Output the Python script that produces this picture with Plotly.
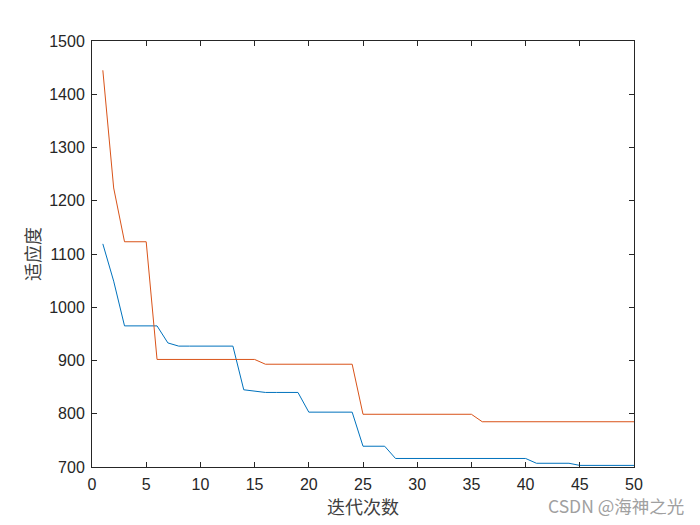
import plotly.graph_objects as go

iters = list(range(1, 51))
blue_vals = [1119, 1049, 965, 965, 965, 965, 933, 927, 927, 927,
             927, 927, 927, 845, 843, 840, 840, 840, 840, 803,
             803, 803, 803, 803, 739, 739, 739, 716, 716, 716,
             716, 716, 716, 716, 716, 716, 716, 716, 716, 716,
             707, 707, 707, 707, 703, 703, 703, 703, 703, 703]
orange_vals = [1445, 1224, 1123, 1123, 1123, 902, 902, 902, 902, 902,
               902, 902, 902, 902, 902, 893, 893, 893, 893, 893,
               893, 893, 893, 893, 799, 799, 799, 799, 799, 799,
               799, 799, 799, 799, 799, 785, 785, 785, 785, 785,
               785, 785, 785, 785, 785, 785, 785, 785, 785, 785]
x_ticks = [0, 5, 10, 15, 20, 25, 30, 35, 40, 45, 50]
y_ticks = [700, 800, 900, 1000, 1100, 1200, 1300, 1400, 1500]

fig = go.Figure()
fig.add_trace(go.Scatter(x=iters, y=blue_vals, mode="lines",
                         line=dict(color="#0072BD", width=1), showlegend=False))
fig.add_trace(go.Scatter(x=iters, y=orange_vals, mode="lines",
                         line=dict(color="#D95319", width=1), showlegend=False))

font_main = "Liberation Sans, Arial, sans-serif"
cjk = "Noto Sans CJK SC, sans-serif"
axis_common = dict(showline=True, linecolor="#262626", linewidth=1, mirror="ticks",
                   ticks="inside", ticklen=5, tickcolor="#262626", showgrid=False,
                   zeroline=False, ticklabelstandoff=3,
                   tickfont=dict(family=font_main, size=16, color="#262626"))
fig.update_xaxes(range=[0, 50], tickvals=x_ticks, **axis_common,
                 title=dict(text="迭代次数", font=dict(family=cjk, size=18, color="#404040"), standoff=5))
fig.update_yaxes(range=[700, 1500], tickvals=y_ticks, **axis_common,
                 title=dict(text="适应度", font=dict(family=cjk, size=18, color="#404040"), standoff=3))

fig.add_annotation(text="CSDN @海神之光", xref="paper", yref="paper", x=1.096, y=-0.091,
                   xanchor="right", yanchor="middle", showarrow=False,
                   font=dict(family=cjk, size=17.5, color="#a0a0a0"))

fig.update_layout(width=700, height=525, margin=dict(l=84, r=74, t=33, b=66),
                  plot_bgcolor="white", paper_bgcolor="white")
fig.write_html("out.html")
